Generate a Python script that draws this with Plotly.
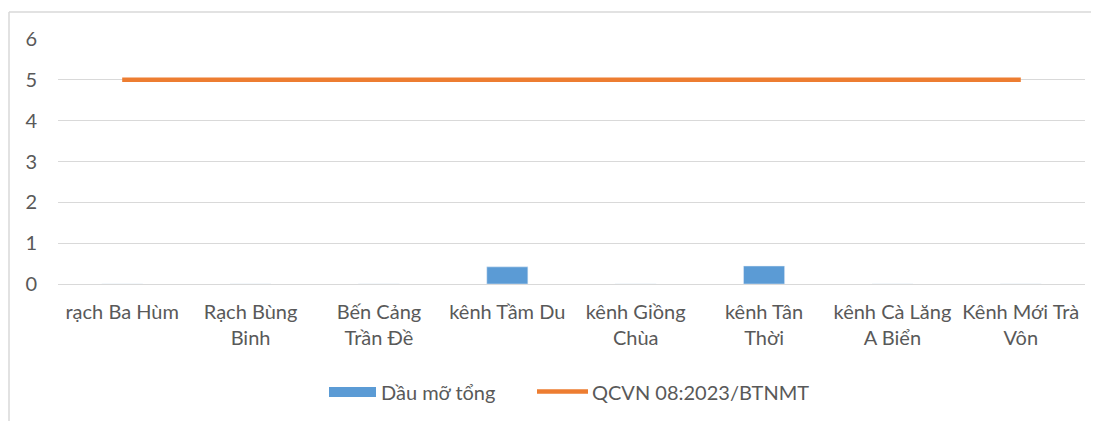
import plotly.graph_objects as go

categories = ["rạch Ba Hùm", "Rạch Bùng<br>Binh", "Bến Cảng<br>Trần Đề", "kênh Tầm Du",
              "kênh Giồng<br>Chùa", "kênh Tân<br>Thời", "kênh Cà Lăng<br>A Biển", "Kênh Mới Trà<br>Vôn"]
dau_mo_tong = [0, 0, 0, 0.42, 0, 0.44, 0, 0]
qcvn = [5, 5, 5, 5, 5, 5, 5, 5]
bar_name = "Dầu mỡ tổng"
line_name = "QCVN 08:2023/BTNMT"
y_ticks = [0, 1, 2, 3, 4, 5, 6]

BLUE = "#5B9BD5"
ORANGE = "#ED7D31"
GREY = "#595959"
GRID = "#D9D9D9"
FONT = "Lato"
FS = 20

fig = go.Figure()
fig.add_trace(go.Bar(x=categories, y=dau_mo_tong, name=bar_name, marker_color=BLUE,
                     showlegend=False))
fig.add_trace(go.Scatter(x=categories, y=qcvn, name=line_name, mode="lines",
                         line=dict(color=ORANGE, width=4.5), showlegend=False))

OFF = 8  # page body margin
W, H = 1099 - OFF, 421 - OFF
# plot area in screen pixels
PX0, PX1, PY0, PY1 = 58, 1085, 39, 284
L, R, T, B = PX0 - OFF, W - (PX1 - OFF), PY0 - OFF, H - (PY1 - OFF)
pw = PX1 - PX0
ph = PY1 - PY0

def px(x):
    return (x - PX0) / pw

def py(y):
    return (PY1 - y) / ph

shapes = [
    dict(type="line", xref="paper", yref="paper", x0=px(9), x1=px(9), y0=py(12), y1=py(430),
         line=dict(color=GRID, width=1.5)),
    dict(type="line", xref="paper", yref="paper", x0=px(9), x1=px(1110), y0=py(12), y1=py(12),
         line=dict(color=GRID, width=1.5)),
    dict(type="rect", xref="paper", yref="paper", x0=px(329), x1=px(376), y0=py(387), y1=py(397),
         fillcolor=BLUE, line=dict(width=0)),
    dict(type="line", xref="paper", yref="paper", x0=px(537), x1=px(588), y0=py(391.5), y1=py(391.5),
         line=dict(color=ORANGE, width=4.5)),
]
annotations = [
    dict(text=bar_name, xref="paper", yref="paper", x=px(379), y=py(392), xanchor="left",
         yanchor="middle", showarrow=False, font=dict(family=FONT, size=FS, color=GREY)),
    dict(text=line_name, xref="paper", yref="paper", x=px(590), y=py(392), xanchor="left",
         yanchor="middle", showarrow=False, font=dict(family=FONT, size=FS, color=GREY)),
]

fig.update_layout(
    width=W, height=H,
    margin=dict(l=L, r=R, t=T, b=B),
    paper_bgcolor="white", plot_bgcolor="white",
    bargap=0.68,
    font=dict(family=FONT, size=FS, color=GREY),
    xaxis=dict(showgrid=False, showline=False, ticks="", tickfont=dict(size=FS, color=GREY),
               tickangle=0, automargin=False, ticklabelstandoff=14),
    yaxis=dict(range=[0, 6], tickvals=y_ticks, showgrid=True, gridcolor=GRID, gridwidth=1.3,
               zeroline=True, zerolinecolor=GRID, zerolinewidth=1.3, showline=False, ticks="",
               tickfont=dict(size=FS, color=GREY), ticklabelstandoff=20, automargin=False),
    shapes=shapes,
    annotations=annotations,
)

fig.write_html("out.html")
